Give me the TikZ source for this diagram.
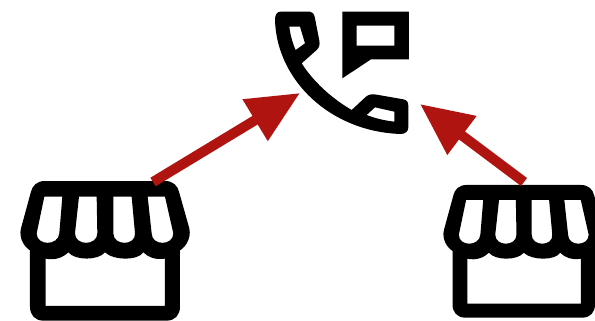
\documentclass[tikz,border=0pt]{standalone}
\usepackage{xcolor}
\usetikzlibrary{arrows.meta}
\definecolor{flowred}{RGB}{176,20,16}

\begin{document}
\begin{tikzpicture}[x=0.02cm, y=-0.02cm, line join=round,
  flow/.style={draw=flowred, line width=0.2cm, -{Triangle[length=1.05cm, width=0.92cm]}},
  shopicon/.pic={
    \fill[black, even odd rule] (60,230) -- (60,410) .. controls (60,435) and (75,452) .. (100,452) -- (470,452) .. controls (495,452) and (510,435) .. (510,410) -- (510,230) -- cycle
      (107,408) -- (465,408) -- (465,240) -- (107,240) -- cycle;
    \fill[black, even odd rule] (105,33) -- (465,33) .. controls (490,33) and (503,48) .. (507,65) -- (538,175) .. controls (545,205) and (525,240) .. (495,248) -- (465,266) .. controls (435,270) and (415,262) .. (400,247) .. controls (385,272) and (310,272) .. (285,247) .. controls (265,272) and (195,272) .. (175,247) .. controls (160,262) and (135,272) .. (107,266) -- (75,248) .. controls (45,240) and (25,205) .. (33,175) -- (63,65) .. controls (67,48) and (80,33) .. (105,33) -- cycle
      (103,80) -- (157,80) -- (148,190) .. controls (145,228) and (80,228) .. (80,190) -- cycle
      (207,80) -- (260,80) -- (262,190) .. controls (262,228) and (195,228) .. (195,190) -- cycle
      (310,80) -- (365,80) -- (375,190) .. controls (378,228) and (310,228) .. (310,190) -- cycle
      (413,80) -- (465,80) -- (490,190) .. controls (490,228) and (425,228) .. (425,190) -- cycle;
  },
  phoneicon/.pic={
    \fill[black, even odd rule] (62,35) -- (150,35) .. controls (158,35) and (162,42) .. (164,50) -- (178,122) .. controls (180,135) and (178,142) .. (170,150) -- (125,190) .. controls (160,245) and (215,295) .. (275,330) -- (318,290) .. controls (328,282) and (338,282) .. (350,284) -- (430,298) .. controls (442,300) and (445,308) .. (445,318) -- (445,382) .. controls (445,395) and (435,402) .. (422,402) .. controls (210,395) and (50,240) .. (45,60) .. controls (45,45) and (50,35) .. (62,35) -- cycle
      (88,80) -- (120,80) -- (135,130) -- (107,150) .. controls (97,128) and (91,105) .. (88,80) -- cycle
      (320,345) -- (345,322) -- (403,335) -- (403,365) .. controls (375,362) and (345,355) .. (320,345) -- cycle;
    \fill[black, even odd rule] (247,35) -- (447,35) -- (447,178) -- (333,178) -- (247,235) -- cycle
      (290,77) -- (403,77) -- (403,137) -- (290,137) -- cycle;
  }]
\clip (0,0) rectangle (595,321);
\pic[scale=0.3333] at (10,170) {shopicon};
\pic[scale=0.3167] at (433.5,174.5) {shopicon};
\pic[scale=0.3333] at (260,0) {phoneicon};
\coordinate (shopleft) at (153,182);
\coordinate (shopright) at (524,182);
\coordinate (phoneleft) at (300,93);
\coordinate (phoneright) at (420,104);
\draw[flow] (shopleft) -- (phoneleft);
\draw[flow] (shopright) -- (phoneright);
\end{tikzpicture}
\end{document}
